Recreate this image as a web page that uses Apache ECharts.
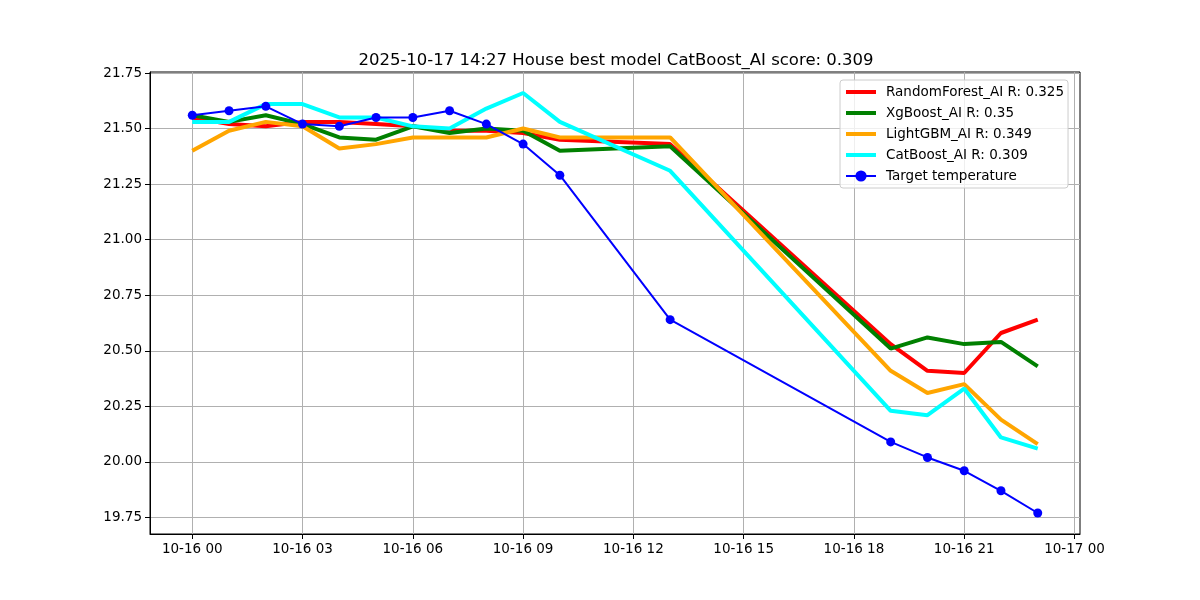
<!DOCTYPE html>
<html>
<head>
<meta charset="utf-8">
<script src="https://cdn.jsdelivr.net/npm/echarts@6/dist/echarts.min.js"></script>
<style>html,body{margin:0;padding:0;background:#fff}#c{width:1200px;height:600px}</style>
</head>
<body>
<div id="c"></div>
<script>
const titleText = '2025-10-17 14:27 House best model CatBoost_AI score: 0.309';
const times = ['2025-10-16 00:00','2025-10-16 01:00','2025-10-16 02:00','2025-10-16 03:00','2025-10-16 04:00','2025-10-16 05:00','2025-10-16 06:00','2025-10-16 07:00','2025-10-16 08:00','2025-10-16 09:00','2025-10-16 10:00','2025-10-16 13:00','2025-10-16 19:00','2025-10-16 20:00','2025-10-16 21:00','2025-10-16 22:00','2025-10-16 23:00'];
const randomForest = [21.55,21.52,21.51,21.53,21.53,21.52,21.51,21.49,21.49,21.48,21.45,21.43,20.53,20.41,20.40,20.58,20.64];
const xgBoost      = [21.56,21.53,21.56,21.52,21.46,21.45,21.51,21.48,21.50,21.49,21.40,21.42,20.51,20.56,20.53,20.54,20.43];
const lightGBM     = [21.40,21.49,21.53,21.51,21.41,21.43,21.46,21.46,21.46,21.50,21.46,21.46,20.41,20.31,20.35,20.19,20.08];
const catBoost     = [21.53,21.53,21.61,21.61,21.55,21.55,21.51,21.50,21.59,21.66,21.53,21.31,20.23,20.21,20.33,20.11,20.06];
const target       = [21.56,21.58,21.60,21.52,21.51,21.55,21.55,21.58,21.52,21.43,21.29,20.64,20.09,20.02,19.96,19.87,19.77];
const seriesNames = ['RandomForest_AI R: 0.325','XgBoost_AI R: 0.35','LightGBM_AI R: 0.349','CatBoost_AI R: 0.309','Target temperature'];
const xTickLabels = ['2025-10-16 00:00','2025-10-16 03:00','2025-10-16 06:00','2025-10-16 09:00','2025-10-16 12:00','2025-10-16 15:00','2025-10-16 18:00','2025-10-16 21:00','2025-10-17 00:00'];
const yTicks = [19.75,20.00,20.25,20.50,20.75,21.00,21.25,21.50,21.75];

function ts(s){ const [d,t]=s.split(' '); const [Y,M,D]=d.split('-').map(Number); const [h,m]=t.split(':').map(Number); return Date.UTC(Y,M-1,D,h,m); }
function pad(n){ return (n<10?'0':'')+n; }
function fmt(v){ const d=new Date(v); return pad(d.getUTCMonth()+1)+'-'+pad(d.getUTCDate())+' '+pad(d.getUTCHours()); }
const xs = times.map(ts);
const xMin = xs[0] - 0.05*(xs[xs.length-1]-xs[0]);
const xMax = xs[xs.length-1] + 0.05*(xs[xs.length-1]-xs[0]);
const all = [].concat(randomForest,xgBoost,lightGBM,catBoost,target);
const lo = Math.min(...all), hi = Math.max(...all);
const yMin = lo - 0.05*(hi-lo), yMax = hi + 0.05*(hi-lo);
const pairs = arr => arr.map((v,i)=>[xs[i],v]);
const font = 'DejaVu Sans';
const colors = ['#ff0000','#008000','#ffa500','#00ffff','#0000ff'];
const modelData = [randomForest,xgBoost,lightGBM,catBoost];
const series = modelData.map((d,i)=>({
  name: seriesNames[i], type:'line', data: pairs(d), symbol:'none', z: 2+i,
  lineStyle:{color:colors[i], width:4}, itemStyle:{color:colors[i]}, animation:false
}));
series.push({
  name: seriesNames[4], type:'line', data: pairs(target), symbol:'circle', symbolSize:9, z:10,
  lineStyle:{color:colors[4], width:2}, itemStyle:{color:colors[4]}, animation:false
});
const legendData = seriesNames.map((n,i)=> i<4 ? {name:n, icon:'path://M0,0L30,0L30,4L0,4Z'} : {name:n});
const chart = echarts.init(document.getElementById('c'));
chart.setOption({
  animation:false,
  backgroundColor:'#fff',
  title:{text:titleText, left:611, textAlign:'center', top:47, textStyle:{fontFamily:font, fontSize:16.5, fontWeight:'normal', color:'#000'}},
  legend:{orient:'vertical', left:840, top:80, itemWidth:30, itemHeight:14, itemGap:7, padding:[5,4,5,5],
    backgroundColor:'rgba(255,255,255,0.8)', borderColor:'#cccccc', borderWidth:1, borderRadius:3,
    textStyle:{fontFamily:font, fontSize:13.5, color:'#000', padding:[0,0,0,5]}, data:legendData},
  grid:{left:150, right:120, top:72, bottom:66, show:true, borderColor:'#000', borderWidth:1, backgroundColor:'transparent'},
  xAxis:{type:'value', min:xMin, max:xMax,
    axisLine:{show:true, lineStyle:{color:'#000', width:1}},
    axisTick:{show:true, length:5, lineStyle:{color:'#000'}, customValues: xTickLabels.map(ts)},
    axisLabel:{customValues: xTickLabels.map(ts), formatter:fmt, fontFamily:font, fontSize:13.5, color:'#000', margin:8},
    splitLine:{show:true, lineStyle:{color:'#b0b0b0', width:1}}},
  yAxis:{type:'value', min:yMin, max:yMax,
    axisLine:{show:true, lineStyle:{color:'#000', width:1}},
    axisTick:{show:true, length:5, lineStyle:{color:'#000'}, customValues: yTicks},
    axisLabel:{customValues: yTicks, formatter:v=>v.toFixed(2), fontFamily:font, fontSize:13.5, color:'#000', margin:8},
    splitLine:{show:true, lineStyle:{color:'#b0b0b0', width:1}}},
  series: series
});
</script>
</body>
</html>
